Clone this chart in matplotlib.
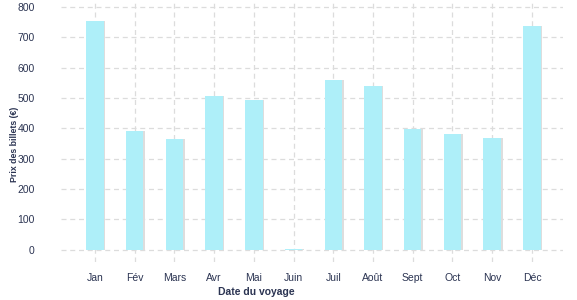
import numpy as np
import matplotlib
matplotlib.use("Agg")
from matplotlib import pyplot as plt

months = ["Jan", "Fév", "Mars", "Avr", "Mai", "Juin", "Juil", "Août", "Sept", "Oct", "Nov", "Déc"]
prices = [754, 392, 366, 507, 494, 3, 560, 540, 398, 382, 369, 737]
yticks = [0, 100, 200, 300, 400, 500, 600, 700, 800]

plt.rcParams['font.family'] = ['Liberation Sans', 'DejaVu Sans']
txt = '#2b3452'
grid = '#dcdcdc'

fig = plt.figure(figsize=(5.77, 3.0), dpi=100)
ax = fig.add_axes([0.1057, 0.1267, 0.87, 0.8733])

x = np.arange(len(months))
# soft shadow behind each bar
ax.bar(x + 0.04, prices, width=0.44, color='#dddddd', zorder=2)
ax.bar(x, prices, width=0.44, color='#aeeff9', zorder=3)

ax.set_xlim(-0.85, 11.78)
ax.set_ylim(-40, 823)
ax.set_xticks(x)
ax.set_xticklabels(months)
ax.set_yticks(yticks)

ax.grid(True, axis='both', color=grid, linestyle=(0, (4, 3)), linewidth=0.9, zorder=0)
for s in ax.spines.values():
    s.set_visible(False)
ax.tick_params(axis='both', length=0, labelsize=7.5, colors=txt)
ax.tick_params(axis='x', pad=8)
ax.tick_params(axis='y', pad=19)

ax.set_xlabel("Date du voyage", fontsize=7.5, fontweight='bold', color=txt)
ax.xaxis.set_label_coords(0.39, -0.095)
ax.set_ylabel("Prix des billets (€)", fontsize=6.3, fontweight='bold', color=txt)
ax.yaxis.set_label_coords(-0.084, 0.45)

fig.savefig("out.png", dpi=100)
